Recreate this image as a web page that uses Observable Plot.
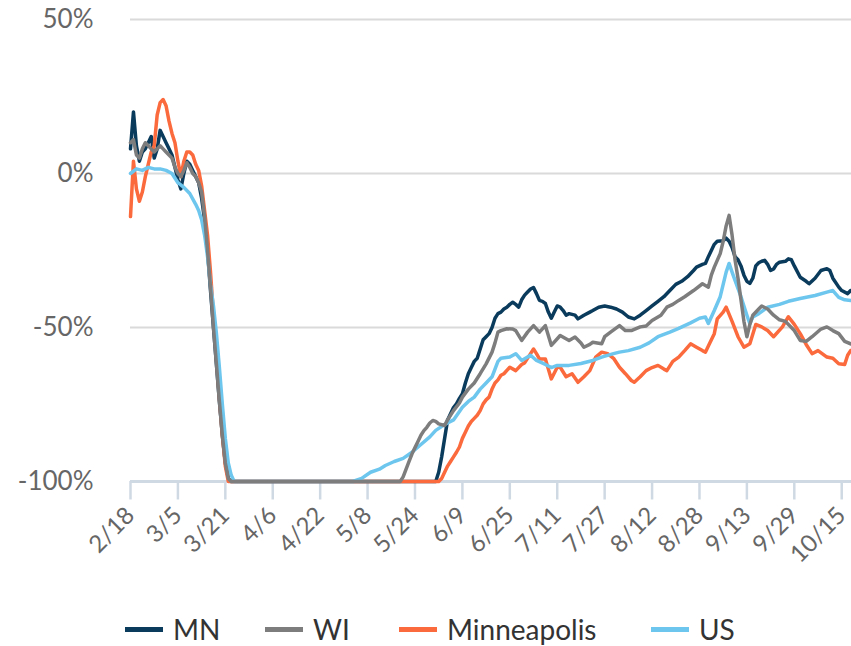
<!DOCTYPE html>
<html>
<head>
<meta charset="utf-8">
<script src="https://cdn.jsdelivr.net/npm/d3@7"></script>
<script src="https://cdn.jsdelivr.net/npm/@observablehq/plot@0.6"></script>
<style>
  html, body { margin: 0; padding: 0; background: #fff; }
  #wrap { position: relative; width: 851px; height: 646px; overflow: hidden; font-family: Lato, "Open Sans", sans-serif; }
  .item { position: absolute; top: 612px; line-height: normal; display: flex; align-items: center; font-size: 28px; color: #333; white-space: nowrap; }
  .sw { width: 38px; height: 5px; margin-right: 10px; }
</style>
</head>
<body>
<div id="wrap"><div id="chart"></div></div>
<script>
// Series labels and colours
const seriesNames = ["MN", "WI", "Minneapolis", "US"];
const seriesColors = ["#0b3b5c", "#7d7d7d", "#fb6a3c", "#6dc6ed"];

// Tick labels
const xTickLabels = ["2/18","3/5","3/21","4/6","4/22","5/8","5/24","6/9","6/25","7/11","7/27","8/12","8/28","9/13","9/29","10/15"];
const yTickValues = [50, 0, -50, -100];

// Values (% change), [date (2020), value]
const mn = [["2/18",8],["2/19",20],["2/20",9],["2/21",4],["2/22",7],["2/23",8],["2/24",10],["2/25",12],["2/26",5],["2/27",8],["2/28",14],["2/29",12],["3/1",10],["3/2",8],["3/3",6],["3/4",2],["3/5",-2],["3/6",-5],["3/7",0],["3/8",4],["3/9",3],["3/10",1],["3/11",-1],["3/12",-3],["3/13",-8],["3/14",-15],["3/15",-25],["3/16",-38],["3/17",-50],["3/18",-62],["3/19",-74],["3/20",-85],["3/21",-94],["3/22",-99],["3/23",-100],["5/31",-100],
["6/1",-97],["6/2",-92],["6/3",-86],["6/4",-80],["6/5",-78],["6/6",-76],["6/7",-74.8],["6/8",-73],["6/9",-71.5],["6/10",-68],["6/11",-65],["6/12",-63],["6/13",-61],["6/14",-60],["6/15",-57],["6/16",-54],["6/17",-53],["6/18",-52],["6/19",-50],["6/20",-47],["6/21",-45.5],["6/22",-45],["6/23",-44],["6/24",-43.4],["6/25",-42.5],["6/26",-41.8],["6/27",-42.5],["6/28",-43.4],["6/29",-41],["6/30",-39.5],
["7/1",-38.5],["7/2",-37.5],["7/3",-37],["7/4",-39],["7/5",-41.2],["7/6",-41.5],["7/7",-42.2],["7/8",-45],["7/9",-47],["7/10",-45],["7/11",-43],["7/12",-43.4],["7/13",-44.5],["7/14",-46],["7/15",-45.5],["7/17",-46],["7/18",-47.2],["7/20",-46],["7/22",-45],["7/23",-44.5],["7/25",-43.4],["7/27",-43],["7/29",-43.4],["7/31",-44],
["8/2",-45],["8/4",-46.6],["8/6",-47.2],["8/8",-46],["8/10",-44.5],["8/12",-43],["8/14",-41.5],["8/16",-40],["8/18",-38],["8/20",-36],["8/22",-35],["8/24",-33.5],["8/26",-31.5],["8/27",-30.4],["8/29",-29.5],["8/30",-29.2],["8/31",-27],
["9/1",-25],["9/2",-23],["9/3",-22],["9/5",-21.8],["9/6",-21],["9/7",-22],["9/8",-24],["9/9",-27],["9/10",-28],["9/11",-30],["9/12",-33],["9/13",-35],["9/14",-35.7],["9/15",-34],["9/16",-30],["9/17",-29],["9/18",-28.5],["9/19",-28.2],["9/20",-29.5],["9/21",-31.5],["9/22",-31],["9/23",-29.5],["9/24",-28.8],["9/26",-28.5],["9/27",-27.7],["9/28",-28],["9/29",-30],
["10/1",-33.7],["10/3",-35],["10/4",-35.8],["10/6",-34],["10/8",-31.5],["10/10",-30.9],["10/11",-31.5],["10/12",-34],["10/14",-36.9],["10/15",-38],["10/17",-39],["10/18",-38]];

const wi = [["2/18",10],["2/19",11],["2/20",6],["2/21",5],["2/22",8],["2/23",10],["2/24",9],["2/25",8],["2/26",7],["2/27",8],["2/28",9],["2/29",8],["3/1",7],["3/2",6],["3/3",5],["3/4",2],["3/5",0],["3/6",-1],["3/7",1],["3/8",3.5],["3/9",2],["3/10",0],["3/11",-1],["3/12",-3],["3/13",-6],["3/14",-14],["3/15",-25],["3/16",-37],["3/17",-50],["3/18",-62],["3/19",-74],["3/20",-85],["3/21",-94],["3/22",-99],["3/23",-100],["5/19",-100],
["5/20",-98.5],["5/21",-96],["5/22",-93.5],["5/23",-91],["5/24",-89],["5/25",-87],["5/26",-85],["5/27",-83.5],["5/28",-82.4],["5/29",-81],["5/30",-80.2],["5/31",-80.5],["6/1",-81.3],["6/3",-81.8],["6/4",-80],["6/6",-77],["6/8",-74.5],["6/9",-72.6],["6/11",-70],["6/13",-68],["6/15",-65],["6/17",-61.8],["6/19",-58],["6/20",-55],["6/21",-51.5],["6/22",-51],["6/24",-50.4],["6/26",-50.5],["6/27",-51],["6/29",-54.2],
["7/1",-51.5],["7/3",-49.4],["7/5",-51.5],["7/7",-49.4],["7/9",-55.8],["7/12",-52.6],["7/15",-54.2],["7/17",-53.1],["7/19",-55],["7/20",-56.4],["7/22",-55.5],["7/23",-54.8],["7/26",-55.3],["7/27",-53],["7/29",-51.5],
["8/1",-49.4],["8/3",-51],["8/5",-51],["8/8",-49.8],["8/10",-49.5],["8/12",-47.7],["8/15",-46],["8/17",-43.4],["8/19",-42.5],["8/21",-41.2],["8/23",-40],["8/26",-38],["8/29",-35.8],["8/31",-36.9],
["9/1",-33],["9/2",-30.4],["9/4",-26],["9/5",-22],["9/6",-17],["9/7",-13.6],["9/8",-20],["9/9",-28],["9/10",-34],["9/11",-41],["9/12",-48],["9/13",-53],["9/14",-49],["9/15",-46],["9/17",-44],["9/18",-43],["9/20",-44],["9/22",-46],["9/24",-47.5],["9/26",-48],["9/29",-51],
["10/1",-54.2],["10/3",-54.5],["10/5",-53],["10/8",-50.5],["10/10",-49.8],["10/12",-51],["10/14",-52],["10/16",-54.5],["10/18",-55.3]];

const minneapolis = [["2/18",-14],["2/19",4],["2/20",-5],["2/21",-9],["2/22",-6],["2/23",-1],["2/24",3],["2/25",7],["2/26",9],["2/27",19],["2/28",23],["2/29",24],["3/1",22],["3/2",17],["3/3",13],["3/4",10],["3/5",4],["3/6",-1],["3/7",4],["3/8",7],["3/9",7],["3/10",6],["3/11",3],["3/12",1],["3/13",-4],["3/14",-12],["3/15",-20],["3/16",-32],["3/17",-46],["3/18",-60],["3/19",-73],["3/20",-85],["3/21",-95],["3/22",-100],["6/1",-100],
["6/2",-99],["6/3",-97],["6/4",-95],["6/5",-93.5],["6/6",-92],["6/7",-90.5],["6/8",-88.8],["6/9",-86],["6/10",-84],["6/11",-82],["6/12",-80.5],["6/13",-79.5],["6/14",-78.5],["6/15",-77],["6/16",-74.8],["6/17",-73.5],["6/18",-72.6],["6/19",-70],["6/20",-68],["6/21",-67],["6/22",-65.5],["6/23",-65],["6/25",-62.9],["6/27",-64],["6/29",-62],["6/30",-61.5],
["7/2",-58.5],["7/3",-57],["7/4",-58.5],["7/5",-60.2],["7/7",-60.2],["7/9",-66.7],["7/11",-62.9],["7/12",-62.9],["7/14",-66],["7/16",-65],["7/18",-67.8],["7/20",-66],["7/22",-64],["7/24",-59.6],["7/26",-58],["7/28",-58.5],["7/30",-60],
["8/1",-62.9],["8/3",-65],["8/5",-67.2],["8/6",-67.8],["8/8",-66],["8/10",-64],["8/12",-63],["8/14",-62.3],["8/16",-63.5],["8/17",-64],["8/19",-61],["8/21",-59.6],["8/23",-57.5],["8/25",-55.3],["8/27",-56.4],["8/29",-57.5],["8/30",-58],["8/31",-56],
["9/2",-52],["9/3",-47.2],["9/5",-45],["9/6",-43.4],["9/8",-48],["9/10",-53],["9/12",-56.4],["9/14",-55.3],["9/16",-49],["9/18",-49.8],["9/20",-51],["9/22",-53],["9/25",-49.8],["9/27",-46.5],["9/29",-49],
["10/1",-52],["10/3",-55.5],["10/5",-58.5],["10/7",-57.5],["10/10",-59.6],["10/12",-60],["10/14",-61.8],["10/16",-62],["10/17",-59],["10/18",-57.5]];

const us = [["2/18",0],["2/20",1.5],["2/22",1],["2/24",2],["2/26",1.5],["2/28",1.5],["3/1",1],["3/3",0],["3/5",-3],["3/7",-4.5],["3/9",-6.5],["3/11",-10],["3/12",-12],["3/13",-15],["3/14",-20],["3/15",-27],["3/16",-36],["3/17",-43],["3/18",-52],["3/19",-63],["3/20",-75],["3/21",-86],["3/22",-94],["3/23",-98],["3/24",-100],["5/3",-100],
["5/6",-99],["5/9",-97],["5/12",-96],["5/14",-94.8],["5/17",-93.5],["5/20",-92.5],["5/23",-90.5],["5/26",-88],["5/29",-85.5],["5/31",-83.4],["6/3",-81.5],["6/6",-80],["6/9",-75.9],["6/11",-74],["6/13",-72.6],["6/15",-70],["6/17",-68],["6/19",-66],["6/21",-61],["6/22",-60],["6/25",-59.6],["6/27",-58.5],["6/29",-60.7],
["7/2",-59],["7/4",-60.7],["7/7",-62],["7/9",-63],["7/11",-62.3],["7/15",-62.3],["7/19",-61.7],["7/23",-60.7],["7/26",-59.6],["7/30",-58.5],
["8/1",-58],["8/4",-57.5],["8/8",-56.4],["8/11",-55],["8/14",-53],["8/18",-51.5],["8/21",-50.3],["8/25",-48.5],["8/28",-47],["8/30",-46.6],["8/31",-48.7],
["9/2",-44.5],["9/4",-40],["9/5",-36],["9/6",-32],["9/7",-29.2],["9/8",-32],["9/9",-34.7],["9/11",-40],["9/13",-46],["9/14",-48.8],["9/15",-46.6],["9/17",-45.5],["9/20",-43.4],["9/24",-42.5],["9/27",-41.5],
["10/1",-40.6],["10/6",-39.6],["10/10",-38.5],["10/12",-38],["10/14",-40.2],["10/16",-41],["10/18",-41.2]];

const parse = s => { const [m, d] = s.split("/").map(Number); return new Date(Date.UTC(2020, m - 1, d)); };
const fmt = d => `${d.getUTCMonth() + 1}/${d.getUTCDate()}`;
const rows = (arr, name) => arr.map(([d, v]) => ({date: parse(d), value: v, series: name}));
const seriesData = [mn, wi, minneapolis, us];
// draw order: MN, Minneapolis, US, WI (WI on top)
const drawOrder = [0, 2, 3, 1];

const xStart = parse("2/18");
const xEnd = new Date(parse("10/18").getTime() + 0.3 * 864e5);
const tickDates = xTickLabels.map(parse);

const chart = Plot.plot({
  width: 851,
  height: 590,
  marginLeft: 130,
  marginRight: 0,
  marginTop: 19,
  marginBottom: 109,
  style: {fontFamily: "Lato, 'Open Sans', sans-serif", background: "#fff", overflow: "visible"},
  x: {type: "utc", domain: [xStart, xEnd], axis: null},
  y: {domain: [-100, 50]},
  marks: [
    Plot.ruleY([50, 0, -50], {stroke: "#dadada", strokeWidth: 2}),
    Plot.axisY({ticks: yTickValues, tickSize: 0, tickPadding: 37, tickFormat: d => d + "%", fontSize: 26, fill: "#666", label: null}),
    // tick marks below the axis line
    Plot.ruleX(tickDates, {x: d => d, y1: -100, y2: -106, stroke: "#cfd9e3", strokeWidth: 2.5}),
    // rotated tick labels
    Plot.text(tickDates, {x: d => d, y: -100, dy: 30, text: fmt, rotate: -45, textAnchor: "end", lineAnchor: "middle", fontSize: 24, fill: "#666"}),
    Plot.ruleY([-100], {stroke: "#cfd9e3", strokeWidth: 3}),
    ...drawOrder.map(i => Plot.line(rows(seriesData[i], seriesNames[i]), {x: "date", y: "value", stroke: seriesColors[i], strokeWidth: 3.5, strokeLinejoin: "round"}))
  ]
});
document.getElementById("chart").appendChild(chart);

// legend (swatch left edges as in the reference)
const legendX = [125, 265, 399, 651];
const wrap = document.getElementById("wrap");
seriesNames.forEach((n, i) => {
  const it = document.createElement("div");
  it.className = "item";
  it.style.left = legendX[i] + "px";
  it.innerHTML = `<span class="sw" style="background:${seriesColors[i]}"></span><span>${n}</span>`;
  wrap.appendChild(it);
});
</script>
</body>
</html>
